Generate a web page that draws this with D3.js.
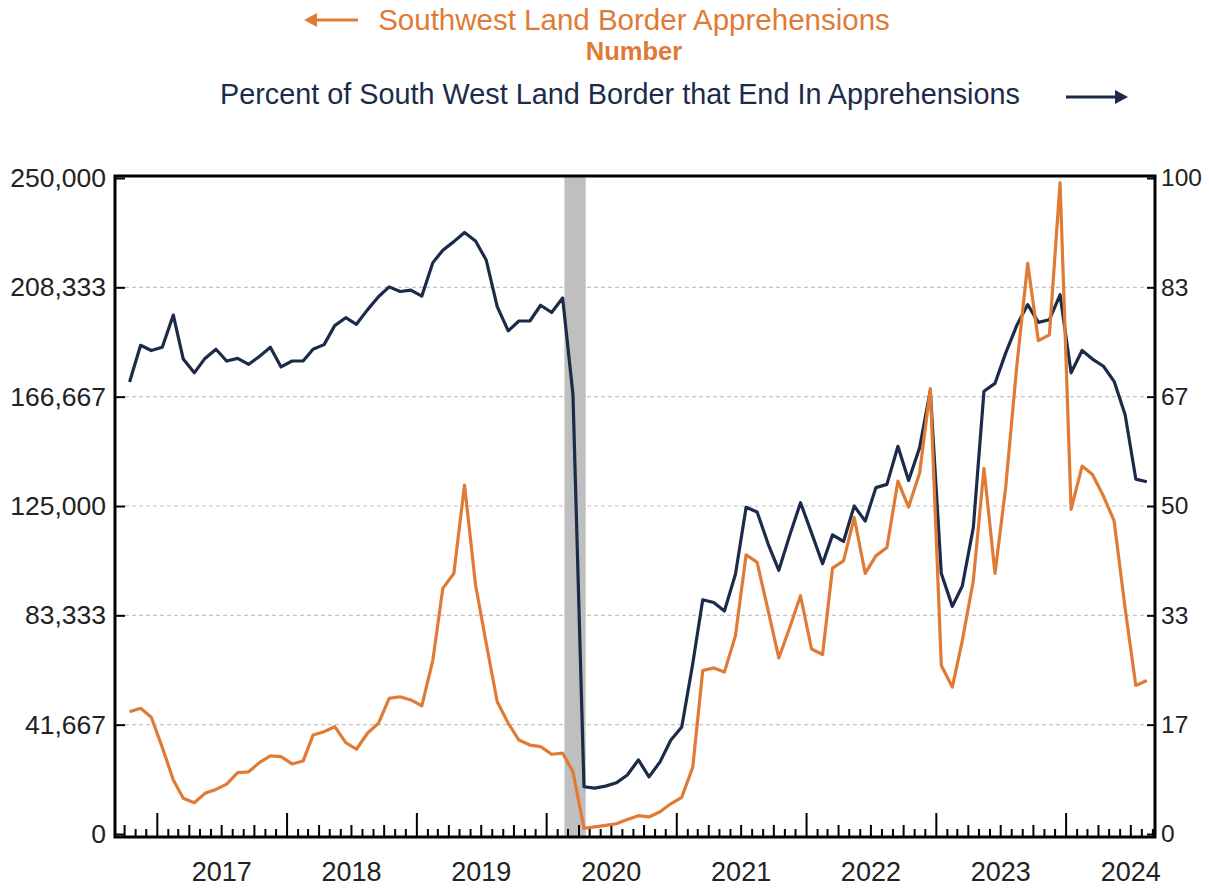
<!DOCTYPE html>
<html>
<head>
<meta charset="utf-8">
<script src="https://cdn.jsdelivr.net/npm/d3@7"></script>
<style>
  body { margin: 0; background: #fff; }
  svg { display: block; font-family: "Liberation Sans", Arial, sans-serif; }
</style>
</head>
<body>
<svg width="1209" height="892"></svg>
<script>
// monthly series, Oct 2016 .. Aug 2024
var months = d3.timeMonth.range(new Date(2016, 9, 1), new Date(2024, 8, 1));

var apprehensions = [
  46600, 47900, 44500, 33000, 20600, 13600, 11900, 15500, 17000, 19000, 23400, 23700,
  27200, 29800, 29500, 26700, 27800, 37700, 39000, 40900, 34800, 32300, 38400, 42200,
  51700, 52300, 51100, 48800, 66300, 93600, 99300, 133000, 95000, 72700, 50400, 42200,
  35800, 33900, 33300, 30400, 30800, 23700, 2200, 2700, 3300, 3900, 5500, 7000,
  6500, 8500, 11500, 14000, 25500, 62300, 63300, 61700, 75600, 106400, 103500, 85100,
  67100, 78800, 90800, 70500, 68400, 101300, 104100, 120600, 99300, 106000, 109200, 134500,
  124600, 137600, 169700, 64200, 56000, 73700, 96500, 139300, 99300, 132000, 178000, 217500,
  188000, 190200, 248200, 123700, 140200, 137000, 128800, 119300, 86000, 56600, 58500
];

var percentApprehended = [
  68.9, 74.5, 73.7, 74.2, 79.1, 72.4, 70.3, 72.5, 73.9, 72.1, 72.5, 71.6,
  72.8, 74.2, 71.2, 72.1, 72.1, 73.9, 74.6, 77.5, 78.7, 77.7, 79.9, 81.9,
  83.4, 82.7, 82.9, 82.0, 87.1, 89.0, 90.3, 91.7, 90.4, 87.5, 80.4, 76.7,
  78.2, 78.2, 80.6, 79.5, 81.7, 67.0, 7.2, 7.0, 7.3, 7.8, 9.0, 11.3,
  8.7, 11.0, 14.3, 16.3, 26.0, 35.7, 35.3, 34.0, 39.6, 49.8, 49.1, 44.2,
  40.2, 45.6, 50.5, 45.9, 41.2, 45.6, 44.6, 50.0, 47.7, 52.8, 53.3, 59.1,
  53.9, 58.9, 67.6, 39.7, 34.7, 37.8, 46.7, 67.5, 68.7, 73.3, 77.5, 80.7,
  78.0, 78.4, 82.2, 70.3, 73.7, 72.4, 71.3, 69.0, 63.9, 54.1, 53.7
];

var leftTicks = [0, 41667, 83333, 125000, 166667, 208333, 250000];
var rightTicks = [0, 100 / 6, 200 / 6, 50, 400 / 6, 500 / 6, 100];
var years = [2017, 2018, 2019, 2020, 2021, 2022, 2023, 2024];
var recession = [new Date(2020, 1, 20), new Date(2020, 3, 20)];

var ORANGE = '#e07b36';
var NAVY = '#1c2b49';

var svg = d3.select('svg');

var plot = { left: 115, right: 1155, top: 176, bottom: 837 };

var x = d3.scaleTime()
  .domain([new Date(2016, 8, 4), new Date(2024, 8, 7)])
  .range([plot.left, plot.right]);

var yLeft = d3.scaleLinear().domain([0, 250000]).range([834, 178]);
var yRight = d3.scaleLinear().domain([0, 100]).range([834, 178]);

function mid(d) {
  return x(d3.timeDay.offset(d, 14));
}

// recession band
svg.append('rect')
  .attr('x', x(recession[0]))
  .attr('y', plot.top)
  .attr('width', x(recession[1]) - x(recession[0]))
  .attr('height', plot.bottom - plot.top)
  .attr('fill', '#bfbfbf');

// gridlines
svg.append('g')
  .selectAll('line')
  .data(leftTicks.slice(1, -1))
  .enter().append('line')
  .attr('x1', plot.left + 10)
  .attr('x2', plot.right - 8)
  .attr('y1', function(d) { return yLeft(d); })
  .attr('y2', function(d) { return yLeft(d); })
  .attr('stroke', '#c4c4c4')
  .attr('stroke-width', 1.2)
  .attr('stroke-dasharray', '4,3');

// left axis
var leftAxis = svg.append('g')
  .attr('transform', 'translate(' + plot.left + ',0)')
  .call(d3.axisLeft(yLeft)
    .tickValues(leftTicks)
    .tickSize(-10)
    .tickPadding(9)
    .tickFormat(d3.format(',')));

// right axis
var rightAxis = svg.append('g')
  .attr('transform', 'translate(' + plot.right + ',0)')
  .call(d3.axisRight(yRight)
    .tickValues(rightTicks)
    .tickSize(-8)
    .tickPadding(6)
    .tickFormat(d3.format('.0f')));

[leftAxis, rightAxis].forEach(function(g) {
  g.select('.domain').remove();
  g.selectAll('.tick line').attr('stroke', '#000').attr('stroke-width', 2);
  g.selectAll('.tick text')
    .attr('fill', '#222')
    .style('font-family', '"Liberation Sans", Arial, sans-serif');
});
leftAxis.selectAll('.tick text').style('font-size', '26.5px');
rightAxis.selectAll('.tick text').style('font-size', '24.5px');

// month ticks on bottom axis
var tickMonths = d3.timeMonth.range(new Date(2016, 9, 1), new Date(2024, 8, 2));
svg.append('g')
  .selectAll('line')
  .data(tickMonths)
  .enter().append('line')
  .attr('x1', function(d) { return x(d); })
  .attr('x2', function(d) { return x(d); })
  .attr('y1', plot.bottom)
  .attr('y2', function(d) {
    var m = d.getMonth();
    if (m === 0) return plot.bottom - 24;
    if (m % 3 === 0) return plot.bottom - 12;
    return plot.bottom - 8;
  })
  .attr('stroke', '#000')
  .attr('stroke-width', 2);

// year labels, centred in each year
svg.append('g')
  .selectAll('text')
  .data(years)
  .enter().append('text')
  .attr('x', function(d) { return x(new Date(d, 6, 1)); })
  .attr('y', 881)
  .attr('text-anchor', 'middle')
  .attr('fill', '#222')
  .style('font-size', '27px')
  .text(function(d) { return d; });

// series
var pctLine = d3.line()
  .x(function(d, i) { return mid(months[i]); })
  .y(function(d) { return yRight(d); });

var appLine = d3.line()
  .x(function(d, i) { return mid(months[i]); })
  .y(function(d) { return yLeft(d); });

svg.append('path')
  .datum(percentApprehended)
  .attr('d', pctLine)
  .attr('fill', 'none')
  .attr('stroke', NAVY)
  .attr('stroke-width', 3.2)
  .attr('stroke-linejoin', 'round');

svg.append('path')
  .datum(apprehensions)
  .attr('d', appLine)
  .attr('fill', 'none')
  .attr('stroke', ORANGE)
  .attr('stroke-width', 3.2)
  .attr('stroke-linejoin', 'round');

// frame
svg.append('rect')
  .attr('x', plot.left)
  .attr('y', plot.top)
  .attr('width', plot.right - plot.left)
  .attr('height', plot.bottom - plot.top)
  .attr('fill', 'none')
  .attr('stroke', '#000')
  .attr('stroke-width', 3);

// legend
svg.append('text')
  .attr('x', 634)
  .attr('y', 30)
  .attr('text-anchor', 'middle')
  .attr('fill', ORANGE)
  .style('font-size', '29.5px')
  .text('Southwest Land Border Apprehensions');

svg.append('text')
  .attr('x', 634)
  .attr('y', 60)
  .attr('text-anchor', 'middle')
  .attr('fill', ORANGE)
  .style('font-size', '25.5px')
  .style('font-weight', 'bold')
  .text('Number');

svg.append('text')
  .attr('x', 620)
  .attr('y', 104)
  .attr('text-anchor', 'middle')
  .attr('fill', NAVY)
  .style('font-size', '28.8px')
  .text('Percent of South West Land Border that End In Apprehensions');

function arrow(x1, x2, y, color) {
  var dir = x2 > x1 ? 1 : -1;
  svg.append('line')
    .attr('x1', x1).attr('x2', x2 - dir * 8)
    .attr('y1', y).attr('y2', y)
    .attr('stroke', color)
    .attr('stroke-width', 2.8);
  svg.append('path')
    .attr('d', 'M' + x2 + ',' + y + 'L' + (x2 - dir * 13) + ',' + (y - 7) +
      'L' + (x2 - dir * 13) + ',' + (y + 7) + 'Z')
    .attr('fill', color);
}

arrow(358, 304, 20, ORANGE);
arrow(1066, 1128, 97, NAVY);
</script>
</body>
</html>
